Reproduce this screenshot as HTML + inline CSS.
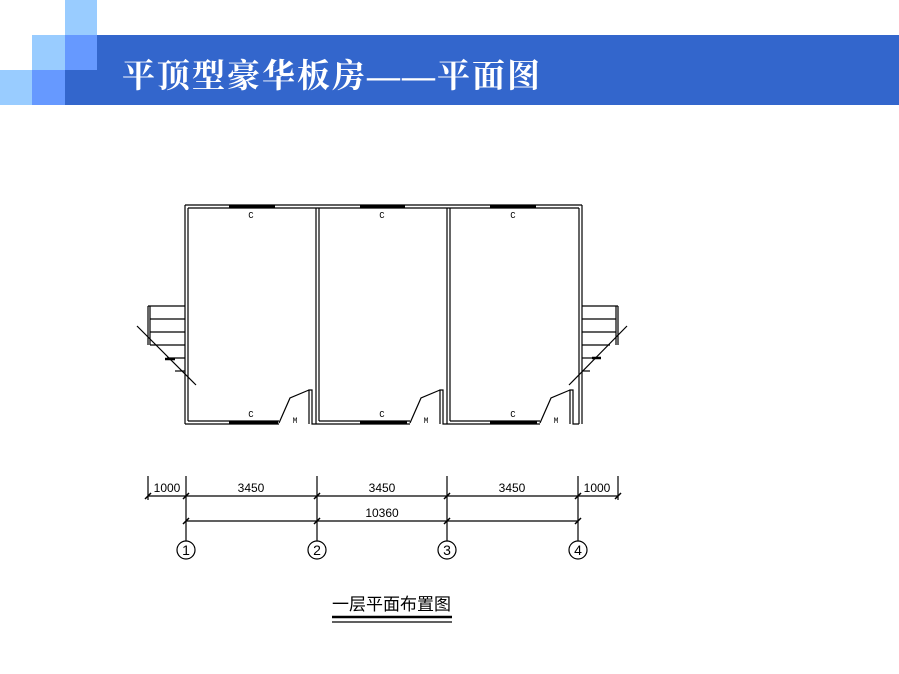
<!DOCTYPE html>
<html><head><meta charset="utf-8"><style>
body{margin:0;width:899px;height:674px;background:#fff;overflow:hidden;position:relative;font-family:"Liberation Sans","Noto Sans CJK SC",sans-serif}
.sq{position:absolute}
</style></head><body>
<div class="sq" style="left:65px;top:0;width:32px;height:35px;background:#99ccff"></div>
<div class="sq" style="left:32px;top:35px;width:33px;height:35px;background:#99ccff"></div>
<div class="sq" style="left:0;top:70px;width:32px;height:35px;background:#99ccff"></div>
<div class="sq" style="left:32px;top:70px;width:33px;height:35px;background:#6699ff"></div>
<div class="sq" style="left:65px;top:35px;width:32px;height:35px;background:#6699ff"></div>
<div class="sq" style="left:65px;top:70px;width:32px;height:35px;background:#3366cc"></div>
<div class="sq" style="left:97px;top:35px;width:802px;height:70px;background:#3366cc"></div>
<div style="position:absolute;left:122px;top:50px;color:#fff;font-size:33px;font-weight:bold;letter-spacing:2px;font-family:'Liberation Serif','Noto Serif CJK SC',serif;white-space:nowrap">平顶型豪华板房——平面图</div>
<svg width="899" height="674" style="position:absolute;left:0;top:0" font-family="Liberation Mono, monospace">
<g stroke="#000" stroke-width="1.2" fill="none">
<line x1="185" y1="205" x2="582" y2="205"/><line x1="188" y1="208" x2="579" y2="208"/>
<line x1="185" y1="205" x2="185" y2="424"/><line x1="188" y1="208" x2="188" y2="421"/>
<line x1="582" y1="205" x2="582" y2="424"/><line x1="579" y1="208" x2="579" y2="424"/>
<line x1="316" y1="208" x2="316" y2="424"/><line x1="319" y1="208" x2="319" y2="421"/>
<line x1="447" y1="208" x2="447" y2="424"/><line x1="450" y1="208" x2="450" y2="421"/>
<line x1="185" y1="424" x2="279" y2="424"/><line x1="188" y1="421" x2="279" y2="421"/>
<line x1="316" y1="424" x2="410" y2="424"/><line x1="319" y1="421" x2="410" y2="421"/>
<line x1="447" y1="424" x2="540" y2="424"/><line x1="450" y1="421" x2="540" y2="421"/>
<path d="M309 424V390H312V424H316"/><path d="M440 424V390H443V424H447"/><path d="M570 424V390H573V424H579"/>
<polyline points="279,423 290,398 309,390"/><polyline points="410,423 421,398 440,390"/><polyline points="540,423 551,398 570,390"/>
<line x1="148" y1="306" x2="148" y2="345"/><line x1="150" y1="306" x2="150" y2="345"/>
<line x1="148" y1="306" x2="185" y2="306"/><line x1="150" y1="319" x2="185" y2="319"/><line x1="150" y1="332" x2="185" y2="332"/><line x1="150" y1="345" x2="185" y2="345"/><line x1="167" y1="358" x2="185" y2="358"/><line x1="175" y1="371" x2="185" y2="371"/>
<line x1="137" y1="326" x2="196" y2="385"/>
<line x1="165" y1="359" x2="175" y2="359" stroke-width="2.5"/>
<line x1="616" y1="306" x2="616" y2="345"/><line x1="618" y1="306" x2="618" y2="345"/>
<line x1="582" y1="306" x2="618" y2="306"/><line x1="582" y1="319" x2="616" y2="319"/><line x1="582" y1="332" x2="616" y2="332"/><line x1="582" y1="345" x2="610" y2="345"/><line x1="582" y1="358" x2="597" y2="358"/><line x1="582" y1="371" x2="590" y2="371"/>
<line x1="627" y1="326" x2="569" y2="385"/>
<line x1="592" y1="358" x2="601" y2="358" stroke-width="2.5"/>
<line x1="148" y1="496" x2="618" y2="496"/><line x1="186" y1="521" x2="578" y2="521"/>
<line x1="148" y1="476" x2="148" y2="500"/><line x1="618" y1="476" x2="618" y2="500"/>
<line x1="186" y1="476" x2="186" y2="541"/><line x1="317" y1="476" x2="317" y2="541"/><line x1="447" y1="476" x2="447" y2="541"/><line x1="578" y1="476" x2="578" y2="541"/>
<g stroke-width="1.5"><line x1="145" y1="499" x2="151" y2="493"/><line x1="183" y1="499" x2="189" y2="493"/><line x1="314" y1="499" x2="320" y2="493"/><line x1="444" y1="499" x2="450" y2="493"/><line x1="575" y1="499" x2="581" y2="493"/><line x1="615" y1="499" x2="621" y2="493"/>
<line x1="183" y1="524" x2="189" y2="518"/><line x1="314" y1="524" x2="320" y2="518"/><line x1="444" y1="524" x2="450" y2="518"/><line x1="575" y1="524" x2="581" y2="518"/></g>
<circle cx="186" cy="550" r="9"/><circle cx="317" cy="550" r="9"/><circle cx="447" cy="550" r="9"/><circle cx="578" cy="550" r="9"/>
<line x1="332" y1="617" x2="452" y2="617" stroke-width="2.5"/><line x1="332" y1="622" x2="452" y2="622"/>
</g>
<g stroke="#000" stroke-width="3">
<line x1="229" y1="206.5" x2="275" y2="206.5"/><line x1="360" y1="206.5" x2="405" y2="206.5"/><line x1="490" y1="206.5" x2="536" y2="206.5"/>
<line x1="229" y1="422.5" x2="278" y2="422.5"/><line x1="360" y1="422.5" x2="407" y2="422.5"/><line x1="490" y1="422.5" x2="537" y2="422.5"/>
</g>
<g font-size="9" fill="#000" text-anchor="middle">
<text x="251" y="218">C</text><text x="382" y="218">C</text><text x="513" y="218">C</text>
<text x="251" y="417">C</text><text x="382" y="417">C</text><text x="513" y="417">C</text>
<text x="295" y="423" font-size="8">M</text><text x="426" y="423" font-size="8">M</text><text x="556" y="423" font-size="8">M</text>
</g>
<g font-size="12" fill="#000" text-anchor="middle" font-family="Liberation Sans, sans-serif">
<text x="167" y="492">1000</text><text x="251" y="492">3450</text><text x="382" y="492">3450</text><text x="512" y="492">3450</text><text x="597" y="492">1000</text>
<text x="382" y="517">10360</text>
<text x="186" y="555" font-size="14">1</text><text x="317" y="555" font-size="14">2</text><text x="447" y="555" font-size="14">3</text><text x="578" y="555" font-size="14">4</text>
</g>
<text x="332" y="610" font-size="17" font-family="Liberation Sans, Noto Sans CJK SC, sans-serif">一层平面布置图</text>
</svg>
</body></html>
